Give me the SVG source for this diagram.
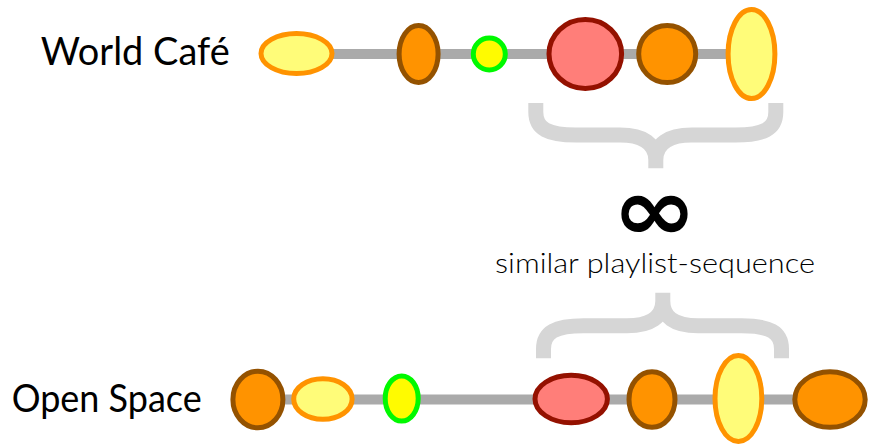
<svg xmlns="http://www.w3.org/2000/svg" width="869" height="444" viewBox="0 0 869 444">
<style>
.lbl{font-family:Lato,"Open Sans","Liberation Sans",sans-serif;fill:#000;}
.line{stroke:#AAAAAA;stroke-width:10;fill:none;}
.brace{stroke:#D6D6D6;stroke-width:15;fill:none;stroke-linejoin:round;}
.y{fill:#FFFC79;stroke:#FF9300;stroke-width:5;}
.o{fill:#FF9300;stroke:#945200;stroke-width:5;}
.g{fill:#FFFB00;stroke:#00F900;stroke-width:5;}
.r{fill:#FF7E79;stroke:#941100;stroke-width:5;}
</style>
<rect width="869" height="444" fill="#fff"/>
<g id="connectors">
<line class="line" x1="300" y1="54" x2="750" y2="54"/>
<line class="line" x1="258" y1="399.5" x2="830" y2="399.5"/>
<path class="brace" d="M535.8,103 V112 C535.8,129 548,135 576,135 H620 C644,135 655.8,144 655.8,160 V168.3 M775.8,103 V112 C775.8,129 763.6,135 735.6,135 H691.6 C667.6,135 655.8,144 655.8,160"/>
<path class="brace" d="M543.5,358.3 V349 C543.5,332 555.5,325.8 583.5,325.8 H627 C651,325.8 662.8,317 662.8,301 V292.7 M781.5,358.3 V349 C781.5,332 769.5,325.8 741.5,325.8 H698 C674,325.8 662.8,317 662.8,301"/>
</g>
<g id="world-cafe-label"><text class="lbl" x="40.7" y="65" font-size="38" textLength="189" lengthAdjust="spacingAndGlyphs">World Café</text></g>
<g id="open-space-label"><text class="lbl" x="11.7" y="411.5" font-size="38" textLength="190" lengthAdjust="spacingAndGlyphs">Open Space</text></g>
<g id="similarity-label">
<text transform="translate(654.5,214) scale(1,0.86)" x="0" y="30.6" font-family="'DejaVu Sans',sans-serif" font-weight="bold" font-size="102" text-anchor="middle" fill="#000">∞</text>
<text class="lbl" x="495" y="273" font-size="27" font-weight="300" textLength="320" lengthAdjust="spacingAndGlyphs">similar playlist-sequence</text>
</g>
<g id="wc1"><ellipse class="y" cx="296.5" cy="53.5" rx="35.5" ry="20"/></g>
<g id="wc2"><ellipse class="o" cx="418.6" cy="54" rx="19.5" ry="28.5"/></g>
<g id="wc3"><ellipse class="g" cx="489.3" cy="54" rx="16" ry="16"/></g>
<g id="wc4"><ellipse class="r" cx="585.3" cy="54" rx="36.3" ry="34.5"/></g>
<g id="wc5"><ellipse class="o" cx="667.2" cy="54" rx="28.5" ry="28.5"/></g>
<g id="wc6"><ellipse class="y" cx="751.5" cy="54" rx="23.4" ry="44.5"/></g>
<g id="os1"><ellipse class="o" cx="257.9" cy="399.5" rx="25" ry="28.3"/></g>
<g id="os2"><ellipse class="y" cx="322.9" cy="399" rx="29.2" ry="20.3"/></g>
<g id="os3"><ellipse class="g" cx="401.7" cy="398.5" rx="16.5" ry="22.5"/></g>
<g id="os4"><ellipse class="r" cx="571.2" cy="399" rx="36.2" ry="23.7"/></g>
<g id="os5"><ellipse class="o" cx="652" cy="399.5" rx="23" ry="27.8"/></g>
<g id="os6"><ellipse class="y" cx="738.4" cy="398.5" rx="23.4" ry="43"/></g>
<g id="os7"><ellipse class="o" cx="830" cy="399.5" rx="35.2" ry="27.8"/></g>
</svg>
